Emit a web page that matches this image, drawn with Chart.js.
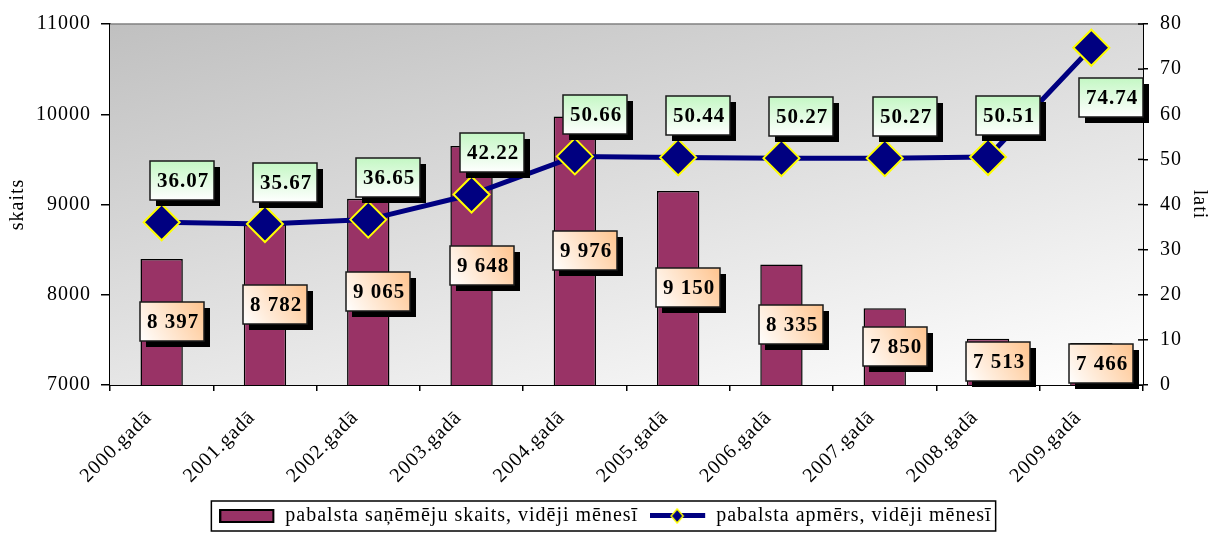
<!DOCTYPE html>
<html>
<head>
<meta charset="utf-8">
<script src="https://cdn.jsdelivr.net/npm/chart.js@4/dist/chart.umd.min.js"></script>
<style>
  html, body { margin: 0; padding: 0; background: #fff; }
  #wrap { width: 1211px; height: 541px; position: relative; }
</style>
</head>
<body>
<div id="wrap"><canvas id="chart"></canvas></div>
<script>
// ===== Data =====
const years = ['2000.gadā', '2001.gadā', '2002.gadā', '2003.gadā', '2004.gadā',
               '2005.gadā', '2006.gadā', '2007.gadā', '2008.gadā', '2009.gadā'];
const recipients = [8397, 8782, 9065, 9648, 9976, 9150, 8335, 7850, 7513, 7466];
const amounts = [36.07, 35.67, 36.65, 42.22, 50.66, 50.44, 50.27, 50.27, 50.51, 74.74];
const leftTicks = [7000, 8000, 9000, 10000, 11000];
const rightTicks = [0, 10, 20, 30, 40, 50, 60, 70, 80];
const seriesNames = ['pabalsta saņēmēju skaits, vidēji mēnesī', 'pabalsta apmērs, vidēji mēnesī'];

const FONT = '"Liberation Serif", "Times New Roman", serif';
const BAR_COLOR = '#993366';
const LINE_COLOR = '#000080';

const fmtThousands = v => String(v).replace(/\B(?=(\d{3})+(?!\d))/g, ' ');

// legend swatches
function makeSwatch(kind) {
  const c = document.createElement('canvas');
  c.width = 56; c.height = 16;
  const x = c.getContext('2d');
  if (kind === 'bar') {
    x.fillStyle = BAR_COLOR;
    x.fillRect(1, 2, 53, 12);
    x.strokeStyle = '#000'; x.lineWidth = 2;
    x.strokeRect(1, 2, 53, 12);
  } else {
    x.fillStyle = LINE_COLOR;
    x.fillRect(0, 5, 55, 5);
    x.beginPath();
    x.moveTo(27, 1); x.lineTo(33, 8); x.lineTo(27, 15); x.lineTo(21, 8); x.closePath();
    x.fill();
    x.strokeStyle = '#ffff00'; x.lineWidth = 1.5; x.stroke();
  }
  return c;
}
const swatches = [makeSwatch('bar'), makeSwatch('line')];

// the source renders its serif text slightly spaced out
const spacedText = {
  id: 'spacedText',
  beforeUpdate(chart) { chart.ctx.letterSpacing = '1px'; },
  beforeLayout(chart) { chart.ctx.letterSpacing = '1px'; },
  beforeDraw(chart) { chart.ctx.letterSpacing = '1px'; }
};

// plot background with grey gradient and top edge
const plotBackground = {
  id: 'plotBackground',
  beforeDatasetsDraw(chart) {
    const { ctx, chartArea: a } = chart;
    const w = a.right - a.left, h = a.bottom - a.top;
    const g = ctx.createLinearGradient(a.left, a.top, a.left + w * 0.13, a.top + h * 1.58);
    g.addColorStop(0, '#c0c0c0');
    g.addColorStop(1, '#ffffff');
    ctx.save();
    ctx.fillStyle = g;
    ctx.fillRect(a.left, a.top, w, h);
    ctx.strokeStyle = '#808080';
    ctx.lineWidth = 1.5;
    ctx.beginPath();
    ctx.moveTo(a.left, a.top); ctx.lineTo(a.right, a.top);
    ctx.stroke();
    // inner half of the right axis ticks
    const y1 = chart.scales.y1;
    ctx.strokeStyle = '#000';
    rightTicks.forEach(t => {
      const y = y1.getPixelForValue(t);
      ctx.beginPath(); ctx.moveTo(a.right - 5, y); ctx.lineTo(a.right, y); ctx.stroke();
    });
    ctx.restore();
  }
};

function drawBoxLabel(ctx, text, cx, cy, kind) {
  ctx.font = 'bold 21px ' + FONT;
  ctx.letterSpacing = '1px';
  const w = Math.round(ctx.measureText(text).width + 12);
  const h = 39;
  const x = Math.round(cx - w / 2), y = Math.round(cy - h / 2);
  ctx.fillStyle = '#000';
  ctx.fillRect(x + 6, y + 6, w, h);
  let g;
  if (kind === 'green') {
    g = ctx.createLinearGradient(0, y, 0, y + h);
    g.addColorStop(0, '#c4f7c4');
    g.addColorStop(1, '#ffffff');
  } else {
    g = ctx.createLinearGradient(x, y + h, x + w, y);
    g.addColorStop(0, '#ffffff');
    g.addColorStop(1, '#ffc48e');
  }
  ctx.fillStyle = g;
  ctx.fillRect(x, y, w, h);
  ctx.strokeStyle = '#1a1a1a';
  ctx.lineWidth = 1.5;
  ctx.strokeRect(x, y, w, h);
  ctx.fillStyle = '#000';
  ctx.textAlign = 'center';
  ctx.textBaseline = 'middle';
  ctx.fillText(text, x + w / 2 + 1, y + h / 2 + 1);
}

// value boxes on bars and on line points
const valueBoxes = {
  id: 'valueBoxes',
  afterDatasetsDraw(chart) {
    const { ctx, chartArea: a } = chart;
    ctx.save();
    chart.getDatasetMeta(0).data.forEach((bar, i) => {
      const bottom = Math.min(bar.base, a.bottom);
      drawBoxLabel(ctx, fmtThousands(recipients[i]), bar.x + 10, (bar.y + bottom) / 2, 'orange');
    });
    chart.getDatasetMeta(1).data.forEach((pt, i) => {
      let cy = pt.y - 42;
      if (cy - 20 < a.top) cy = pt.y + 50;
      drawBoxLabel(ctx, amounts[i].toFixed(2), pt.x + 20, cy, 'green');
    });
    ctx.restore();
  }
};

// frame round the legend
const legendFrame = {
  id: 'legendFrame',
  afterDraw(chart) {
    const boxes = chart.legend.legendHitBoxes;
    if (!boxes || !boxes.length) return;
    const left = Math.min(...boxes.map(b => b.left)) - 8;
    const right = Math.max(...boxes.map(b => b.left + b.width)) + 4;
    const top = Math.min(...boxes.map(b => b.top)) - 5;
    const bottom = Math.max(...boxes.map(b => b.top + b.height)) + 5;
    const ctx = chart.ctx;
    ctx.save();
    ctx.strokeStyle = '#000';
    ctx.lineWidth = 1.5;
    ctx.strokeRect(left, top, right - left, bottom - top);
    ctx.restore();
  }
};

const tickFont = { family: FONT, size: 20 };

new Chart(document.getElementById('chart'), {
  data: {
    labels: years,
    datasets: [
      {
        type: 'bar',
        label: seriesNames[0],
        data: recipients,
        yAxisID: 'y',
        backgroundColor: BAR_COLOR,
        borderColor: '#000',
        borderWidth: 1.5,
        borderSkipped: false,
        barPercentage: 0.41,
        categoryPercentage: 1,
        order: 2
      },
      {
        type: 'line',
        label: seriesNames[1],
        data: amounts,
        yAxisID: 'y1',
        borderColor: LINE_COLOR,
        borderWidth: 5,
        tension: 0,
        pointStyle: 'rectRot',
        pointRadius: 18,
        pointHoverRadius: 18,
        pointBackgroundColor: LINE_COLOR,
        pointBorderColor: '#ffff00',
        pointBorderWidth: 2,
        order: 1
      }
    ]
  },
  options: {
    responsive: true,
    maintainAspectRatio: false,
    animation: false,
    layout: { padding: { top: 22, left: 0, right: 0, bottom: 5 } },
    plugins: {
      tooltip: { enabled: false },
      legend: {
        position: 'bottom',
        labels: {
          usePointStyle: true,
          pointStyleWidth: 56,
          padding: 12,
          color: '#000',
          font: { family: FONT, size: 20 },
          generateLabels(chart) {
            return chart.data.datasets.map((ds, i) => ({
              text: ds.label,
              pointStyle: swatches[i],
              datasetIndex: i,
              hidden: false,
              lineWidth: 0,
              fillStyle: 'transparent',
              strokeStyle: 'transparent',
              fontColor: '#000'
            }));
          }
        }
      }
    },
    scales: {
      x: {
        offset: true,
        grid: { display: true, drawOnChartArea: false, offset: true, color: '#000', lineWidth: 1.5, tickLength: 6 },
        border: { color: '#000', width: 2 },
        ticks: { color: '#000', font: tickFont, minRotation: 45, maxRotation: 45, padding: 15, labelOffset: -13 },
        afterFit(scale) { scale.height = 109; }
      },
      y: {
        position: 'left',
        min: leftTicks[0],
        max: leftTicks[leftTicks.length - 1],
        afterBuildTicks(scale) { scale.ticks = leftTicks.map(v => ({ value: v })); },
        grid: { drawOnChartArea: false, color: '#000', lineWidth: 1.5, tickLength: 9 },
        border: { color: '#000', width: 2 },
        ticks: { color: '#000', font: tickFont, padding: 10, callback: v => String(v) },
        title: { display: true, text: 'skaits', color: '#000', font: tickFont, padding: { top: 6, bottom: 0 } },
        afterFit(scale) { scale.width = 110; }
      },
      y1: {
        position: 'right',
        min: rightTicks[0],
        max: rightTicks[rightTicks.length - 1],
        afterBuildTicks(scale) { scale.ticks = rightTicks.map(v => ({ value: v })); },
        grid: { drawOnChartArea: false, color: '#000', lineWidth: 1.5, tickLength: 5 },
        border: { color: '#000', width: 2 },
        ticks: { color: '#000', font: tickFont, padding: 12, callback: v => String(v) },
        title: { display: true, text: 'lati', color: '#000', font: tickFont, padding: { top: 0, bottom: 0 } },
        afterFit(scale) { scale.width = 68; }
      }
    }
  },
  plugins: [spacedText, plotBackground, valueBoxes, legendFrame]
});
</script>
</body>
</html>
